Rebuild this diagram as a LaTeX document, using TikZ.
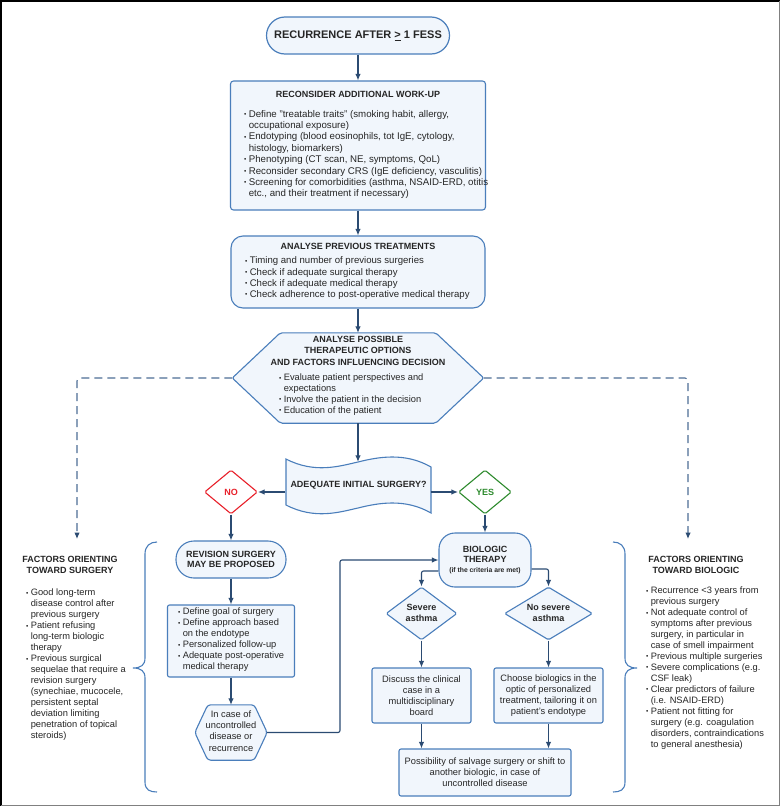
\documentclass[tikz,border=0pt]{standalone}
\usepackage{fontspec}
\setmainfont{Liberation Sans}
\usetikzlibrary{arrows.meta,calc,shapes.geometric}
\definecolor{bfill}{HTML}{F1F6FC}
\definecolor{bdraw}{HTML}{4A7EBB}
\definecolor{arrc}{HTML}{2B4B72}
\definecolor{dashc}{HTML}{4D6E96}
\definecolor{txtc}{HTML}{262626}
\definecolor{noc}{HTML}{E8202A}
\definecolor{yesc}{HTML}{2E8B2E}
\newcommand{\bl}{\makebox[4.6pt][l]{\raisebox{0.7pt}{\fontsize{6.5}{6.5}\selectfont\textbullet}}}
\newcommand{\ind}{\hspace*{4.6pt}}
\tikzset{
  box/.style={draw=bdraw, fill=bfill, line width=1.1pt, inner sep=0pt, rounded corners=3pt},
  hexd/.style={draw=bdraw, fill=bfill, line width=1.1pt, rounded corners=2pt},
  ghost/.style={inner sep=0pt, draw=none},
  txt/.style={inner sep=0pt, text=txtc, font=\fontsize{9.3}{11.2}\selectfont, align=left},
  ttl/.style={inner sep=0pt, text=txtc, font=\bfseries\fontsize{9}{11.3}\selectfont, align=center},
  dia/.style={shape=diamond, line width=1.1pt, inner sep=0pt, rounded corners=1.5pt},
  arr/.style={draw=arrc, line width=1.1pt, -{Latex[length=6.5pt,width=5.5pt]}},
  dasharr/.style={draw=dashc, line width=1.1pt, dash pattern=on 8pt off 5pt, rounded corners=3pt, -{Latex[length=6.5pt,width=5.5pt,color=arrc]}},
  brace/.style={draw=bdraw, line width=1.1pt}
}
\begin{document}
\begin{tikzpicture}[x=1pt,y=-1pt]
\useasboundingbox (0,0) rectangle (780,806);
\fill[white] (0,0) rectangle (780,806);

% top
\node[box, rounded corners=18.5pt, minimum width=183pt, minimum height=37pt, line width=1.2pt] (top) at (358,35.5) {};
\node[ttl, font=\bfseries\fontsize{11}{13}\selectfont] (topT) at (358,36) {RECURRENCE AFTER \underline{>} 1 FESS};

% work-up
\node[box, minimum width=255pt, minimum height=129pt] (workup) at (358,145.5) {};
\node[ttl] (workupT) at (358,94) {RECONSIDER ADDITIONAL WORK-UP};
\node[txt, anchor=north west, font=\fontsize{9.7}{11.4}\selectfont] (workupL) at (244,109.8) {%
\bl Define "treatable traits" (smoking habit, allergy,\\
\ind occupational exposure)\\
\bl Endotyping (blood eosinophils, tot IgE, cytology,\\
\ind histology, biomarkers)\\
\bl Phenotyping (CT scan, NE, symptoms, QoL)\\
\bl Reconsider secondary CRS (IgE deficiency, vasculitis)\\
\bl Screening for comorbidities (asthma, NSAID-ERD, otitis\\
\ind etc., and their treatment if necessary)};

% previous treatments
\node[box, rounded corners=12pt, minimum width=254pt, minimum height=72pt] (prev) at (358,272) {};
\node[ttl] (prevT) at (358,246) {ANALYSE PREVIOUS TREATMENTS};
\node[txt, anchor=north west, font=\fontsize{9.6}{11.1}\selectfont] (prevL) at (245,256.8) {%
\bl Timing and number of previous surgeries\\
\bl Check if adequate surgical therapy\\
\bl Check if adequate medical therapy\\
\bl Check adherence to post-operative medical therapy};

% big hexagon
\node[ghost, minimum width=251pt, minimum height=90pt] (hexa) at (358,378) {};
\draw[hexd] (hexa.west) -- ([xshift=48pt]hexa.north west) -- ([xshift=-48pt]hexa.north east) -- (hexa.east) -- ([xshift=-48pt]hexa.south east) -- ([xshift=48pt]hexa.south west) -- cycle;
\node[ttl, anchor=north, font=\bfseries\fontsize{9}{11.5}\selectfont] (hexaT) at (358,335.7) {ANALYSE POSSIBLE\\THERAPEUTIC OPTIONS\\AND FACTORS INFLUENCING DECISION};
\node[txt, anchor=north west, font=\fontsize{9.3}{10.8}\selectfont] (hexaL) at (279,374) {%
\bl Evaluate patient perspectives and\\
\ind expectations\\
\bl Involve the patient in the decision\\
\bl Education of the patient};

% adequate initial surgery (tape shape)
\node[ghost, minimum width=145pt, minimum height=60pt] (adeq) at (358,492) {};
\draw[draw=bdraw, fill=bfill, line width=1.1pt] (286,459) .. controls (315,474) and (340,466) .. (358,462) .. controls (378,457) and (405,452) .. (431,467) -- (431,513) .. controls (405,498) and (378,503) .. (358,508) .. controls (340,512) and (315,520) .. (286,505) -- cycle;
\node[ttl] (adeqT) at (358.5,485) {ADEQUATE INITIAL SURGERY?};

% NO / YES
\node[dia, draw=noc, fill=white, minimum width=53pt, minimum height=44pt] (no) at (231,492) {};
\node[ttl, text=noc] (noT) at (231,492) {NO};
\node[dia, draw=yesc, fill=white, minimum width=53pt, minimum height=44pt] (yes) at (485,492) {};
\node[ttl, text=yesc] (yesT) at (485,492) {YES};

% revision surgery branch
\node[box, ttl, rounded corners=18pt, minimum width=110pt, minimum height=37pt, font=\bfseries\fontsize{9}{10.6}\selectfont] (rev) at (231,559.5) {REVISION SURGERY\\MAY BE PROPOSED};
\node[box, rounded corners=2pt, minimum width=127pt, minimum height=72pt] (revb) at (231,641) {};
\node[txt, anchor=north west, font=\fontsize{9.3}{11}\selectfont] (revbL) at (178,608) {%
\bl Define goal of surgery\\
\bl Define approach based\\
\ind on the endotype\\
\bl Personalized follow-up\\
\bl Adequate post-operative\\
\ind medical therapy};
\node[ghost, minimum width=72pt, minimum height=55pt] (unc) at (231,732.5) {};
\draw[hexd, rounded corners=3pt] (unc.west) -- ([xshift=13pt]unc.north west) -- ([xshift=-13pt]unc.north east) -- (unc.east) -- ([xshift=-13pt]unc.south east) -- ([xshift=13pt]unc.south west) -- cycle;
\node[txt, align=center, font=\fontsize{9.3}{11.3}\selectfont] (uncT) at (231,730.8) {In case of\\uncontrolled\\disease or\\recurrence};
\coordinate (jn) at (340,732.5);

% biologic branch
\node[box, rounded corners=16pt, minimum width=92pt, minimum height=54pt] (bio) at (485,560) {};
\node[ttl, anchor=north, font=\bfseries\fontsize{9}{10.5}\selectfont] (bioT) at (485,545.7) {BIOLOGIC\\THERAPY};
\node[ttl, font=\bfseries\fontsize{6.8}{8}\selectfont] (bioS) at (485,571) {(if the criteria are met)};

\node[dia, draw=bdraw, fill=bfill, minimum width=71pt, minimum height=53pt] (sev) at (421.5,613.5) {};
\node[ttl, font=\bfseries\fontsize{9}{11}\selectfont] (sevT) at (421.5,612.5) {Severe\\asthma};
\node[dia, draw=bdraw, fill=bfill, minimum width=88pt, minimum height=53pt] (nosev) at (548.5,613.5) {};
\node[ttl, font=\bfseries\fontsize{9}{11}\selectfont] (nosevT) at (548.5,612.5) {No severe\\asthma};

\node[box, txt, align=center, rounded corners=2pt, minimum width=99pt, minimum height=55pt, font=\fontsize{9.3}{11.1}\selectfont] (disc) at (421.5,695.5) {Discuss the clinical\\case in a\\multidisciplinary\\board};
\node[box, txt, align=center, rounded corners=2pt, minimum width=109pt, minimum height=55pt, font=\fontsize{9.3}{11.1}\selectfont] (cho) at (548.5,695.5) {Choose biologics in the\\optic of personalized\\treatment, tailoring it on\\patient's endotype};
\node[box, txt, align=center, rounded corners=2pt, minimum width=172pt, minimum height=47pt, font=\fontsize{9.3}{11.1}\selectfont] (fin) at (485,772.5) {Possibility of salvage surgery or shift to\\another biologic, in case of\\uncontrolled disease};

% side columns
\node[ttl, anchor=north, font=\bfseries\fontsize{9}{11}\selectfont] (fsT) at (70,555.7) {FACTORS ORIENTING\\TOWARD SURGERY};
\node[txt, anchor=north west, font=\fontsize{9.3}{11}\selectfont] (fsL) at (26,589) {%
\bl Good long-term\\
\ind disease control after\\
\ind previous surgery\\
\bl Patient refusing\\
\ind long-term biologic\\
\ind therapy\\
\bl Previous surgical\\
\ind sequelae that require a\\
\ind revision surgery\\
\ind (synechiae, mucocele,\\
\ind persistent septal\\
\ind deviation limiting\\
\ind penetration of topical\\
\ind steroids)};
\node[ttl, anchor=north, font=\bfseries\fontsize{9}{11}\selectfont] (fbT) at (696,555.7) {FACTORS ORIENTING\\TOWARD BIOLOGIC};
\node[txt, anchor=north west, font=\fontsize{9.3}{10.95}\selectfont] (fbL) at (646,587) {%
\bl Recurrence <3 years from\\
\ind previous surgery\\
\bl Not adequate control of\\
\ind symptoms after previous\\
\ind surgery, in particular in\\
\ind case of smell impairment\\
\bl Previous multiple surgeries\\
\bl Severe complications (e.g.\\
\ind CSF leak)\\
\bl Clear predictors of failure\\
\ind (i.e. NSAID-ERD)\\
\bl Patient not fitting for\\
\ind surgery (e.g. coagulation\\
\ind disorders, contraindications\\
\ind to general anesthesia)};
\coordinate (lArr) at (77,539);
\coordinate (rArr) at (688,539);

% braces
\draw[brace] (157,542) .. controls (150,542) and (145,546) .. (145,554) -- (145,658) .. controls (145,665) and (141,668) .. (133,668) .. controls (141,668) and (145,671) .. (145,678) -- (145,782) .. controls (145,790) and (150,792) .. (157,792);
\draw[brace] (613,542) .. controls (620,542) and (625,546) .. (625,554) -- (625,658) .. controls (625,665) and (629,668) .. (637,668) .. controls (629,668) and (625,671) .. (625,678) -- (625,782) .. controls (625,790) and (620,792) .. (613,792);

% connectors
\draw[arr] (top.south) -- (workup.north);
\draw[arr] (workup.south) -- (prev.north);
\draw[arr] (prev.south) -- (hexa.north);
\draw[arr] (hexa.south) -- (adeq.north);
\draw[arr] (adeq.west) -- (no.east);
\draw[arr] (adeq.east) -- (yes.west);
\draw[arr] (no.south) -- (rev.north);
\draw[arr] (yes.south) -- (bio.north);
\draw[arr] (rev.south) -- (revb.north);
\draw[arr] (revb.south) -- (unc.north);
\draw[arr, rounded corners=2pt] (unc.east) -- (jn) |- (bio.west);
\draw[arr, rounded corners=2pt] ([yshift=-11pt]bio.west) -| (sev.north);
\draw[arr, rounded corners=2pt] ([yshift=-9pt]bio.east) -| (nosev.north);
\draw[arr] (sev.south) -- (disc.north);
\draw[arr] (nosev.south) -- (cho.north);
\draw[arr] (disc.south) -- (disc.south |- fin.north);
\draw[arr] (cho.south) -- (cho.south |- fin.north);
\draw[dasharr] (hexa.west) -| (lArr);
\draw[dasharr] (hexa.east) -| (rArr);

% frame
\draw[black, line width=1.5pt] (0.75,805.5) -- (0.75,0.75) -- (779.5,0.75);
\draw[gray, line width=0.8pt] (779.6,0.75) -- (779.6,805.6) -- (0.75,805.6);
\end{tikzpicture}
\end{document}
